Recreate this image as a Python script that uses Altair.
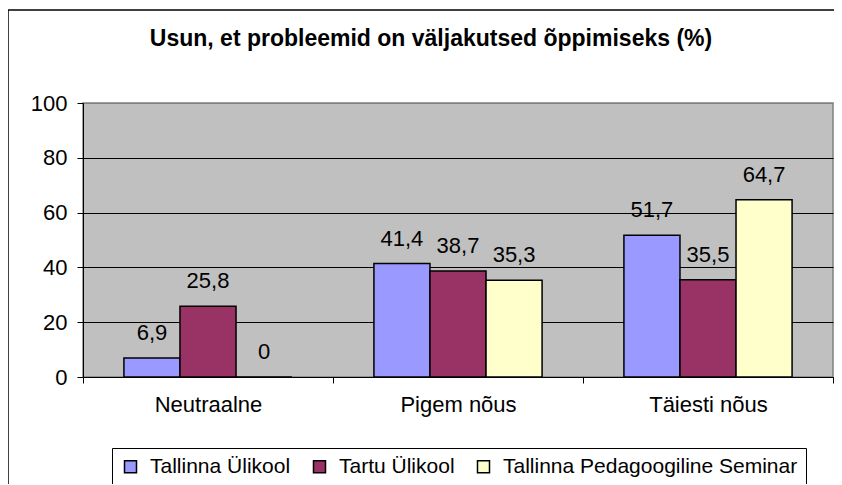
import altair as alt
import pandas as pd

categories = ["Neutraalne", "Pigem nõus", "Täiesti nõus"]
series = ["Tallinna Ülikool", "Tartu Ülikool", "Tallinna Pedagoogiline Seminar"]
values_tlu = [6.9, 41.4, 51.7]
values_tu = [25.8, 38.7, 35.5]
values_tps = [0, 35.3, 64.7]
colors = ["#9999FF", "#993366", "#FFFFCC"]
title_text = "Usun, et probleemid on väljakutsed õppimiseks (%)"

rows = []
for s, vals in zip(series, [values_tlu, values_tu, values_tps]):
    for c, v in zip(categories, vals):
        rows.append({"kategooria": c, "kool": s, "väärtus": v,
                     "silt": f"{v:g}".replace(".", ",")})
df = pd.DataFrame(rows)

FONT = "Liberation Sans"
W, H = 750, 274

x_enc = alt.X("kategooria:N", sort=categories,
              scale=alt.Scale(paddingInner=0, paddingOuter=0),
              axis=alt.Axis(title=None, labelAngle=0, labelFontSize=22,
                            labelColor="black", labelFont=FONT,
                            tickBand="extent", tickSize=6, labelPadding=11,
                            domainColor="black", tickColor="black"))
xoff = alt.XOffset("kool:N", sort=series,
                   scale=alt.Scale(paddingInner=0, paddingOuter=0.73))

bars = alt.Chart(df).mark_bar(stroke="black", strokeWidth=1.5).encode(
    x=x_enc,
    xOffset=xoff,
    y=alt.Y("väärtus:Q", scale=alt.Scale(domain=[0, 100]),
            axis=alt.Axis(title=None, values=[0, 20, 40, 60, 80, 100],
                          labelFontSize=22, labelFont=FONT, labelColor="black",
                          tickSize=6, labelPadding=10, domainColor="black",
                          tickColor="black", grid=True,
                          gridColor={"condition": {"test": "datum.value === 100", "value": "#808080"}, "value": "black"},
                          gridOpacity=1)),
    color=alt.Color("kool:N", sort=series,
                    scale=alt.Scale(domain=series, range=colors),
                    legend=alt.Legend(title=None, orient="none", direction="horizontal",
                                      legendX=29, legendY=345,
                                      strokeColor="black", padding=8,
                                      symbolType="square", symbolSize=144,
                                      symbolStrokeColor="black", symbolStrokeWidth=1.5,
                                      symbolOpacity=1, labelLimit=500,
                                      labelFontSize=21, labelFont=FONT, labelColor="black",
                                      labelOffset=9, columnPadding=18)),
)

labels = alt.Chart(df).mark_text(dy=-18, baseline="alphabetic", fontSize=22,
                                 font=FONT, color="black").encode(
    x=alt.X("kategooria:N", sort=categories),
    xOffset=xoff,
    y="väärtus:Q",
    text="silt:N",
)

title = alt.Chart(alt.Data(values=[{"t": title_text}])).mark_text(
    fontSize=23, font=FONT, fontWeight="bold", color="black",
    align="center", baseline="alphabetic").encode(
    x=alt.value(348), y=alt.value(-57), text="t:N")

frame_left = alt.Chart(alt.Data(values=[{"a": 1}])).mark_rule(
    stroke="black", strokeWidth=1.5).encode(
    x=alt.value(-75), y=alt.value(-93), y2=alt.value(H + 200))
frame_top = alt.Chart(alt.Data(values=[{"a": 1}])).mark_rule(
    stroke="black", strokeWidth=1.5).encode(
    x=alt.value(-75), x2=alt.value(W + 100), y=alt.value(-93))

chart = alt.layer(frame_left, frame_top, bars, labels, title).properties(
    width=W, height=H,
    autosize=alt.AutoSizeParams(type="none"),
    padding={"left": 75, "top": 95, "right": 1, "bottom": 107},
).configure_view(fill="#C0C0C0", stroke="#808080", strokeWidth=1.5)

chart.save("out.html", embed_options={"renderer": "svg", "actions": False})
